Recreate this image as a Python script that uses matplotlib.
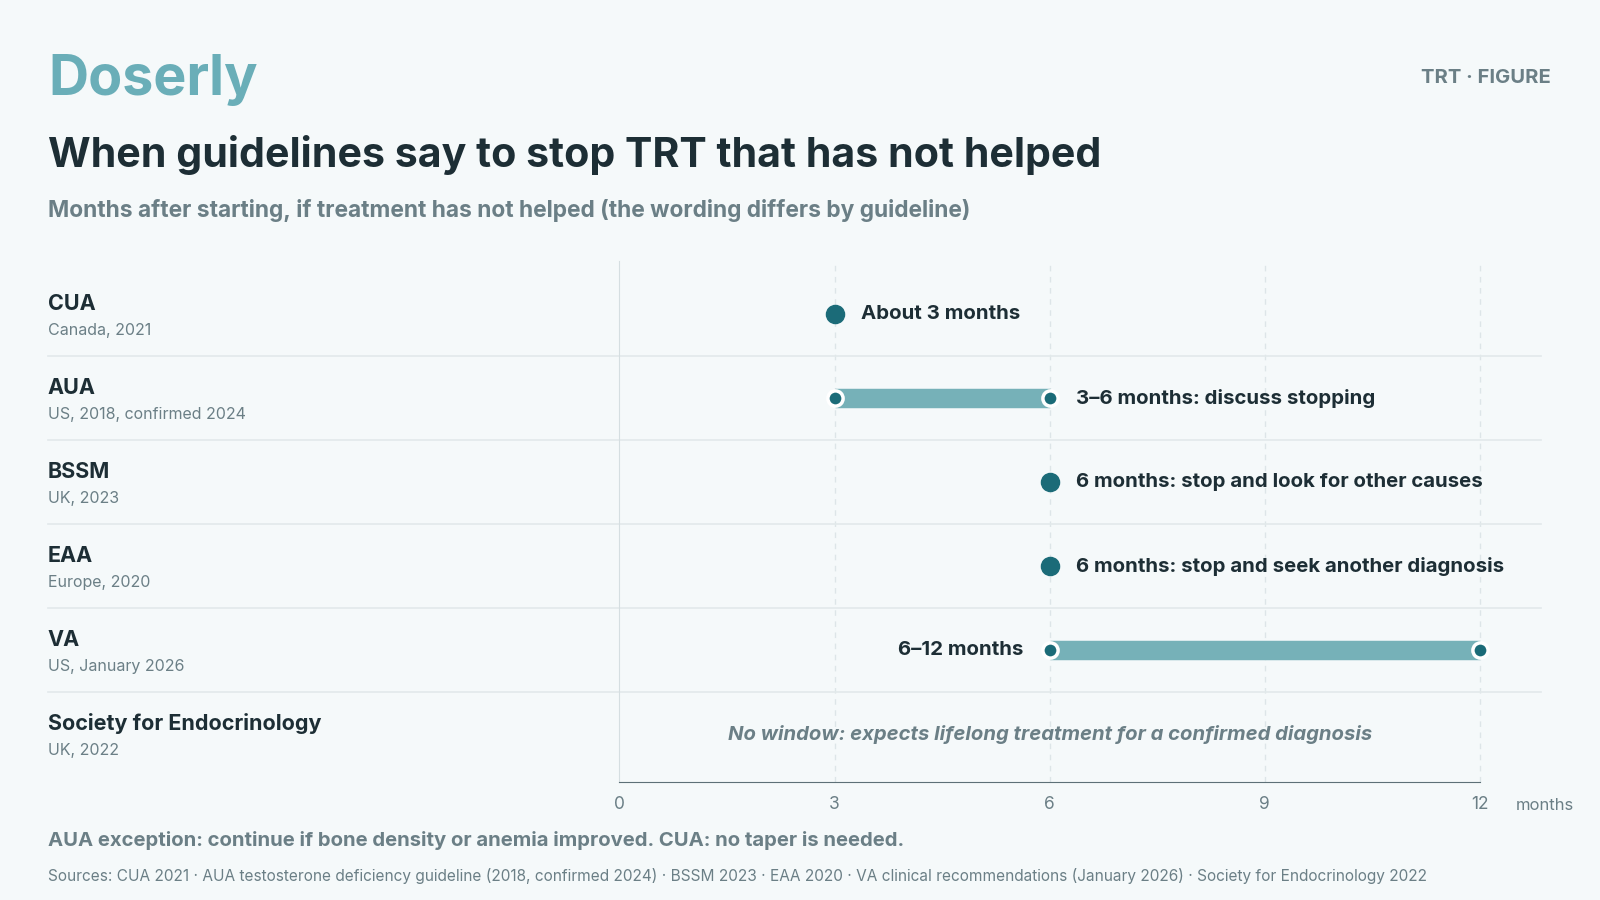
import matplotlib.pyplot as plt
from matplotlib.lines import Line2D

plt.rcParams['font.family'] = ['Inter', 'DejaVu Sans']

# data
orgs = ["CUA", "AUA", "BSSM", "EAA", "VA", "Society for Endocrinology"]
details = ["Canada, 2021", "US, 2018, confirmed 2024", "UK, 2023", "Europe, 2020",
           "US, January 2026", "UK, 2022"]
starts = [3, 3, 6, 6, 6, None]
ends = [3, 6, 6, 6, 12, None]
notes = ["About 3 months", "3\u20136 months: discuss stopping",
         "6 months: stop and look for other causes",
         "6 months: stop and seek another diagnosis", "6\u201312 months",
         "No window: expects lifelong treatment for a confirmed diagnosis"]
ticks = [0, 3, 6, 9, 12]

BG = "#f5f9fa"
DARK = "#1d2e35"
GREY = "#6b7f86"
TEAL = "#1b6b78"
LIGHT = "#76b1b8"
LOGO = "#6aaeb8"

W, H = 1568, 882
fig = plt.figure(figsize=(16, 9), dpi=100, facecolor=BG)

def fx(px): return px / W
def fy(py): return 1 - py / H

ax = fig.add_axes([fx(607), fy(766), fx(1510) - fx(607), fy(256) - fy(766)])
ax.set_facecolor(BG)
ax.set_xlim(0, 12.85)
ax.set_ylim(5.565, -0.632)
for s in ["top", "right"]:
    ax.spines[s].set_visible(False)
ax.spines["left"].set_color("#d5dee1")
ax.spines["bottom"].set_color("#5d7077")
ax.spines["bottom"].set_bounds(0, 12)
ax.set_yticks([])
ax.set_xticks(ticks)
ax.tick_params(axis="x", length=0, pad=10, labelsize=12.5, labelcolor=GREY)
ax.text(12.5, 5.565 + 0.2, "months", ha="left", va="top", fontsize=12, color=GREY)
for t in ticks[1:]:
    ax.axvline(t, color="#dde5e8", lw=1, ls=(0, (4, 4)), zorder=0)

xl = -7.97
for i, (org, det) in enumerate(zip(orgs, details)):
    ax.text(xl, i + 0.0, org, ha="left", va="bottom", fontsize=15.5, fontweight="bold",
            color=DARK, clip_on=False)
    ax.text(xl, i + 0.1, det, ha="left", va="top", fontsize=11.5, color=GREY, clip_on=False)
    if i < len(orgs) - 1:
        ax.add_line(Line2D([xl, 12.85], [i + 0.5, i + 0.5], color="#e2e9eb", lw=1.2,
                           clip_on=False))

for i, (s, e, n) in enumerate(zip(starts, ends, notes)):
    if s is None:
        ax.text(6, i, n, ha="center", va="center", fontsize=14.6, style="italic",
                fontweight="bold", color=GREY)
        continue
    if s == e:
        ax.scatter([s], [i], s=170, color=TEAL, zorder=4)
        ax.text(s + 0.37, i, n, ha="left", va="center", fontsize=14.7, fontweight="bold",
                color=DARK)
    else:
        ax.plot([s, e], [i, i], color=LIGHT, lw=14, solid_capstyle="butt", zorder=3)
        ax.scatter([s, e], [i, i], s=120, color=TEAL, edgecolor="white", linewidth=2.5,
                   zorder=4)
        if i == 4:
            ax.text(s - 0.37, i, n, ha="right", va="center", fontsize=14.7,
                    fontweight="bold", color=DARK)
        else:
            ax.text(e + 0.37, i, n, ha="left", va="center", fontsize=14.7,
                    fontweight="bold", color=DARK)

fig.text(fx(47), fy(78), "Doserly", ha="left", va="center", fontsize=40,
         fontweight="bold", color=LOGO)
fig.text(fx(1520), fy(76), "TRT \u00b7 FIGURE", ha="right", va="center", fontsize=14.5,
         fontweight="bold", color=GREY)
fig.text(fx(47), fy(152), "When guidelines say to stop TRT that has not helped",
         ha="left", va="center", fontsize=29.6, fontweight="bold", color=DARK)
fig.text(fx(47), fy(206),
         "Months after starting, if treatment has not helped (the wording differs by guideline)",
         ha="left", va="center", fontsize=16.4, fontweight="bold", color=GREY)
fig.text(fx(47), fy(824),
         "AUA exception: continue if bone density or anemia improved. CUA: no taper is needed.",
         ha="left", va="center", fontsize=14.6, fontweight="bold", color=GREY)
fig.text(fx(47), fy(858),
         "Sources: CUA 2021 \u00b7 AUA testosterone deficiency guideline (2018, confirmed 2024) "
         "\u00b7 BSSM 2023 \u00b7 EAA 2020 \u00b7 VA clinical recommendations (January 2026) "
         "\u00b7 Society for Endocrinology 2022",
         ha="left", va="center", fontsize=11.1, color=GREY)

fig.savefig("out.png", dpi=100, facecolor=BG)
